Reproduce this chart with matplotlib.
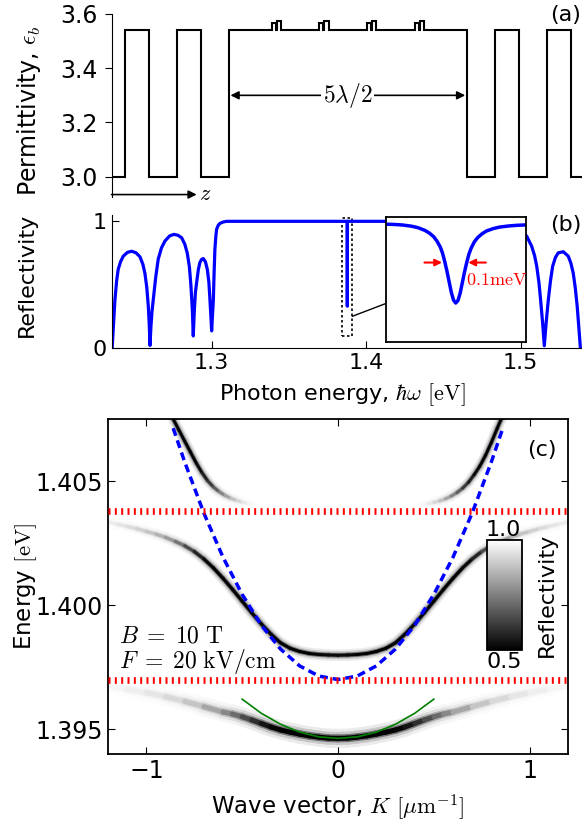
import numpy as np
import matplotlib
matplotlib.use('Agg')
import matplotlib.pyplot as plt
from matplotlib.collections import LineCollection
from matplotlib.patches import Rectangle, ConnectionPatch
from matplotlib import cm, colors

plt.rcParams['mathtext.fontset'] = 'cm'
plt.rcParams['font.family'] = 'DejaVu Sans'

# ---- (a) permittivity profile: layer edges (nm) and eps of each layer
z_edges = [0, 67, 187, 327, 447, 587,
           802, 822, 827, 848,
           1040, 1060, 1065, 1086,
           1278, 1298, 1303, 1324,
           1516, 1536, 1541, 1562,
           1777, 1917, 2037, 2177, 2297, 2400]
eps = [3.0, 3.54, 3.0, 3.54, 3.0,
       3.54, 3.565, 3.54, 3.575,
       3.54, 3.565, 3.54, 3.575,
       3.54, 3.565, 3.54, 3.575,
       3.54, 3.565, 3.54, 3.575,
       3.54, 3.0, 3.54, 3.0, 3.54, 3.0]
cav_start, cav_end = 587, 1777

# ---- (b) reflectivity spectrum
E_b = [1.2356, 1.2364, 1.2374, 1.2385, 1.2395, 1.2410, 1.2428, 1.2455, 1.2482, 1.2510,
       1.2536, 1.2555, 1.2568, 1.2580, 1.2590, 1.2596, 1.2601,
       1.2607, 1.2614, 1.2622, 1.2638, 1.2654, 1.2675, 1.2698, 1.2728, 1.2756, 1.2782,
       1.2806, 1.2826, 1.2842, 1.2856, 1.2866, 1.2875, 1.2881,
       1.2888, 1.2895, 1.2903, 1.2914, 1.2924, 1.2935, 1.2946, 1.2960, 1.2972, 1.2982,
       1.2989, 1.2995, 1.3000,
       1.3005, 1.3011, 1.3016, 1.3021, 1.3027, 1.3032, 1.3043, 1.3054, 1.3075, 1.3097,
       1.3877, 1.3878, 1.3879,
       1.4800, 1.4880, 1.4940, 1.4990, 1.5039, 1.5071, 1.5090, 1.5104, 1.5118, 1.5129,
       1.5142, 1.5153, 1.5165, 1.5179, 1.5193, 1.5207, 1.5225, 1.5243, 1.5276, 1.5308,
       1.5325, 1.5340, 1.5354, 1.5366, 1.5376, 1.5386]
R_b = [0.00, 0.17, 0.38, 0.53, 0.62, 0.68, 0.725, 0.755, 0.764, 0.752,
       0.72, 0.66, 0.59, 0.48, 0.33, 0.19, 0.02,
       0.17, 0.29, 0.38, 0.56, 0.70, 0.79, 0.845, 0.885, 0.897, 0.89,
       0.87, 0.82, 0.75, 0.64, 0.49, 0.30, 0.095,
       0.30, 0.44, 0.52, 0.62, 0.675, 0.70, 0.706, 0.68, 0.62, 0.52,
       0.38, 0.25, 0.135,
       0.25, 0.38, 0.60, 0.78, 0.88, 0.937, 0.97, 0.984, 0.995, 1.0,
       1.0, 0.33, 1.0,
       1.0, 0.995, 0.975, 0.94, 0.883, 0.804, 0.73, 0.645, 0.52, 0.381,
       0.20, 0.018, 0.20, 0.381, 0.53, 0.645, 0.715, 0.751, 0.76, 0.725,
       0.67, 0.593, 0.47, 0.328, 0.17, 0.01]

# inset: zoom on the cavity dip, detuning in meV
dE_in = [-0.32, -0.28, -0.24, -0.20, -0.17, -0.14, -0.12, -0.10, -0.085, -0.07, -0.06,
         -0.05, -0.04, -0.03, -0.02, -0.01, 0.0, 0.01, 0.02, 0.03, 0.04, 0.05, 0.06,
         0.07, 0.085, 0.10, 0.12, 0.14, 0.17, 0.20, 0.24, 0.28, 0.32]
R_in = [0.992, 0.99, 0.985, 0.975, 0.962, 0.94, 0.918, 0.887, 0.85, 0.80, 0.75,
        0.68, 0.60, 0.51, 0.42, 0.355, 0.33, 0.35, 0.41, 0.50, 0.59, 0.67, 0.74,
        0.79, 0.845, 0.88, 0.912, 0.935, 0.955, 0.968, 0.977, 0.983, 0.986]

# ---- (c) polariton branches: K (1/um), energy (eV), minimum reflectivity
K_upL = [-0.86, -0.83, -0.80, -0.77, -0.74, -0.71, -0.68, -0.65, -0.62, -0.59, -0.56,
         -0.53, -0.50, -0.47, -0.44, -0.41]
E_upL = [1.4075, 1.40705, 1.40661, 1.40617, 1.40573, 1.40534, 1.40501, 1.40476, 1.40457,
         1.40442, 1.40431, 1.40422, 1.40415, 1.40410, 1.40406, 1.40403]
R_upL = [0.5, 0.5, 0.5, 0.5, 0.5, 0.53, 0.58, 0.64, 0.72, 0.79, 0.85,
         0.9, 0.94, 0.97, 0.99, 1.0]
K_upR = [0.41, 0.44, 0.47, 0.50, 0.53, 0.56, 0.59, 0.62, 0.65, 0.68, 0.71, 0.74, 0.77,
         0.80, 0.83, 0.86]
E_upR = [1.40403, 1.40406, 1.40409, 1.40414, 1.40420, 1.40428, 1.40439, 1.40453, 1.40471,
         1.40494, 1.40525, 1.40560, 1.40604, 1.40655, 1.40711, 1.40765]
R_upR = [1.0, 0.99, 0.97, 0.94, 0.9, 0.85, 0.79, 0.72, 0.64, 0.58, 0.53, 0.5, 0.5,
         0.5, 0.5, 0.5]

K_mid = [-1.20, -1.15, -1.10, -1.05, -1.00, -0.95, -0.90, -0.85, -0.80, -0.75, -0.70,
         -0.65, -0.60, -0.55, -0.50, -0.45, -0.40, -0.35, -0.30, -0.25, -0.20, -0.15,
         -0.10, -0.05, 0.00, 0.05, 0.10, 0.15, 0.20, 0.25, 0.30, 0.35, 0.40, 0.45, 0.50,
         0.55, 0.60, 0.65, 0.70, 0.75, 0.80, 0.85, 0.90, 0.95, 1.00, 1.05, 1.10, 1.15,
         1.20]
E_mid = [1.40335, 1.40326, 1.40317, 1.40308, 1.40297, 1.40286, 1.40273, 1.40257, 1.40239,
         1.40216, 1.40186, 1.40150, 1.40108, 1.40063, 1.40016, 1.39969, 1.39924, 1.39883,
         1.39848, 1.39826, 1.39813, 1.39805, 1.39801, 1.39799, 1.39798, 1.39799, 1.39801,
         1.39805, 1.39813, 1.39826, 1.39848, 1.39883, 1.39924, 1.39969, 1.40016, 1.40063,
         1.40108, 1.40150, 1.40186, 1.40216, 1.40239, 1.40257, 1.40273, 1.40286, 1.40297,
         1.40308, 1.40317, 1.40326, 1.40335]
R_mid = [0.97, 0.955, 0.94, 0.92, 0.9, 0.87, 0.83, 0.77, 0.69, 0.6, 0.53,
         0.5, 0.5, 0.5, 0.5, 0.5, 0.5, 0.5, 0.5, 0.5, 0.5, 0.5,
         0.51, 0.52, 0.52, 0.52, 0.51, 0.5, 0.5, 0.5, 0.5, 0.5, 0.5, 0.5, 0.5,
         0.5, 0.5, 0.5, 0.53, 0.6, 0.69, 0.77, 0.83, 0.87, 0.9, 0.92, 0.94, 0.955,
         0.97]

K_low = [-1.20, -1.10, -1.00, -0.90, -0.80, -0.70, -0.60, -0.55, -0.50, -0.45, -0.40,
         -0.35, -0.30, -0.25, -0.20, -0.15, -0.10, -0.05, 0.00, 0.05, 0.10, 0.15, 0.20,
         0.25, 0.30, 0.35, 0.40, 0.45, 0.50, 0.55, 0.60, 0.70, 0.80, 0.90, 1.00, 1.10,
         1.20]
E_low = [1.39676, 1.39661, 1.39647, 1.39631, 1.39612, 1.39591, 1.39569, 1.39561, 1.39550,
         1.39537, 1.39523, 1.39509, 1.39497, 1.39488, 1.39480, 1.39473, 1.39468, 1.39464,
         1.39463, 1.39464, 1.39468, 1.39473, 1.39480, 1.39488, 1.39497, 1.39509, 1.39523,
         1.39537, 1.39550, 1.39561, 1.39569, 1.39591, 1.39612, 1.39631, 1.39647, 1.39661,
         1.39676]
R_low = [0.985, 0.975, 0.96, 0.94, 0.91, 0.86, 0.79, 0.74, 0.68, 0.62, 0.56,
         0.52, 0.5, 0.5, 0.5, 0.5, 0.5, 0.5, 0.5, 0.5, 0.5, 0.5, 0.5,
         0.5, 0.5, 0.52, 0.56, 0.62, 0.68, 0.74, 0.79, 0.86, 0.91, 0.94, 0.96, 0.975,
         0.985]

# bare cavity photon (blue dashed), exciton lines (red), lower fit (green)
K_ph = [-0.86, -0.8, -0.7, -0.6, -0.5, -0.4, -0.3, -0.2, -0.1, 0.0,
        0.1, 0.2, 0.3, 0.4, 0.5, 0.6, 0.7, 0.8, 0.86]
E_ph = [1.40713, 1.40577, 1.40371, 1.40193, 1.40043, 1.39919, 1.39823, 1.39755, 1.39714,
        1.39700, 1.39714, 1.39755, 1.39823, 1.39919, 1.40043, 1.40193, 1.40371, 1.40577,
        1.40713]
E_exc = [1.4038, 1.3970]
K_fit = [-0.5, -0.4, -0.3, -0.2, -0.1, 0.0, 0.1, 0.2, 0.3, 0.4, 0.5]
E_fit = [1.39621, 1.39564, 1.39520, 1.39488, 1.39469, 1.39463, 1.39469, 1.39488,
         1.39520, 1.39564, 1.39621]

W, H = 582, 823
fig = plt.figure(figsize=(W / 100, H / 100), dpi=100)

def px_axes(l, t, r, b):
    return fig.add_axes([l / W, 1 - b / H, (r - l) / W, (b - t) / H])

# ================= (a)
ax_a = px_axes(111.5, 14, 582, 197)
ax_a.stairs(eps, z_edges, baseline=None, color='k', lw=1.5)
ax_a.set_xlim(0, 2353)
ax_a.set_ylim(2.925, 3.6)
for s in ['top', 'right', 'bottom']:
    ax_a.spines[s].set_visible(False)
ax_a.set_xticks([])
ax_a.set_yticks([3.0, 3.2, 3.4, 3.6])
ax_a.set_yticklabels(['3.0', '3.2', '3.4', '3.6'])
ax_a.tick_params(axis='y', direction='out', labelsize=17, length=5, pad=5)
ax_a.set_ylabel('Permittivity, $\\epsilon_b$', fontsize=17)
ax_a.yaxis.set_label_coords(-0.145, 0.47)
ax_a.annotate('', xy=(cav_start + 8, 3.3), xytext=(cav_end - 8, 3.3),
              arrowprops=dict(arrowstyle='<|-|>', color='k', lw=1.2,
                              mutation_scale=12, shrinkA=0, shrinkB=0))
ax_a.text((cav_start + cav_end) / 2, 3.3, '$5\\lambda/2$', ha='center', va='center',
          fontsize=17, bbox=dict(fc='white', ec='none', pad=1))
ax_a.annotate('', xy=(426, 2.934), xytext=(0, 2.934), annotation_clip=False,
              arrowprops=dict(arrowstyle='-|>', color='k', lw=1.2,
                              mutation_scale=12, shrinkA=0, shrinkB=0))
ax_a.text(440, 2.936, '$z$', fontsize=16, ha='left', va='center')
fig.text(0.999, 1 - 5 / H, '(a)', ha='right', va='top', fontsize=16)

# ================= (b)
ax_b = px_axes(112, 215, 582, 348)
ax_b.plot(E_b, R_b, color='blue', lw=2.3, solid_joinstyle='round')
ax_b.set_xlim(1.2355, 1.5397)
ax_b.set_ylim(0, 1.05)
for s in ['top', 'right']:
    ax_b.spines[s].set_visible(False)
ax_b.set_xticks([1.3, 1.4, 1.5])
ax_b.set_yticks([0, 1])
ax_b.tick_params(direction='in', labelsize=16, length=5, top=False, right=False)
ax_b.set_ylabel('Reflectivity', fontsize=16)
ax_b.yaxis.set_label_coords(-0.16, 0.55)
ax_b.set_xlabel('Photon energy, $\\hbar\\omega$ $[\\mathrm{eV}]$', fontsize=16)
ax_b.xaxis.set_label_coords(0.49, -0.25)
ax_b.add_patch(Rectangle((1.3846, 0.098), 0.0064, 0.926, fill=False, ec='k',
                         ls=(0, (1.5, 1.5)), lw=1.2))
fig.text(0.999, 1 - 215 / H, '(b)', ha='right', va='top', fontsize=16)

ax_in = px_axes(385.7, 217.3, 525.7, 342.3)
ax_in.plot(dE_in, R_in, color='blue', lw=2.5)
ax_in.set_xlim(-0.318, 0.318)
ax_in.set_ylim(0, 1.05)
ax_in.set_xticks([])
ax_in.set_yticks([])
for s in ax_in.spines.values():
    s.set_linewidth(1.3)
ax_in.annotate('', xy=(-0.062, 0.67), xytext=(-0.142, 0.67),
               arrowprops=dict(arrowstyle='-|>', color='red', lw=1.5, mutation_scale=10,
                               shrinkA=0, shrinkB=0))
ax_in.annotate('', xy=(0.057, 0.67), xytext=(0.137, 0.67),
               arrowprops=dict(arrowstyle='-|>', color='red', lw=1.5, mutation_scale=10,
                               shrinkA=0, shrinkB=0))
ax_in.text(0.045, 0.525, '$0.1\\mathrm{meV}$', color='red', fontsize=13,
           ha='left', va='center')
con = ConnectionPatch(xyA=(1.3910, 0.25), coordsA=ax_b.transData,
                      xyB=(0.0, 0.31), coordsB=ax_in.transAxes, color='k', lw=1.0)
fig.add_artist(con)

# ================= (c)
ax_c = px_axes(108, 419, 568, 754)
norm = colors.Normalize(0.5, 1.0)
cmap = plt.get_cmap('gray')


def draw_band(K, E, R, core):
    pts = np.column_stack([K, E]).reshape(-1, 1, 2)
    segs = np.concatenate([pts[:-1], pts[1:]], axis=1)
    Rm = (np.asarray(R[:-1]) + np.asarray(R[1:])) / 2
    for lw, f in [(core * 3.8, 0.08), (core * 2.6, 0.22), (core * 1.6, 0.55), (core, 1.0)]:
        c = cmap(norm(1 - (1 - Rm) * f))
        lc = LineCollection(segs, colors=c, linewidths=lw, capstyle='round',
                            joinstyle='round', zorder=1)
        ax_c.add_collection(lc)


draw_band(K_low, E_low, R_low, 3.6)
draw_band(K_mid, E_mid, R_mid, 2.2)
draw_band(K_upL, E_upL, R_upL, 2.0)
draw_band(K_upR, E_upR, R_upR, 2.0)

for e in E_exc:
    ax_c.axhline(e, color='red', lw=4.8, ls=(0, (0.3, 0.65)), zorder=4)
ax_c.plot(K_ph, E_ph, color='blue', lw=2.5, ls=(0, (2.3, 1.4)), zorder=3)
ax_c.plot(K_fit, E_fit, color='green', lw=1.2, zorder=3)

ax_c.set_xlim(-1.2, 1.2)
ax_c.set_ylim(1.394, 1.4075)
ax_c.set_xticks([-1, 0, 1])
ax_c.set_yticks([1.395, 1.400, 1.405])
ax_c.set_yticklabels(['1.395', '1.400', '1.405'])
ax_c.tick_params(direction='in', labelsize=17, length=5, top=True, right=True)
for s in ax_c.spines.values():
    s.set_linewidth(1.3)
ax_c.set_ylabel('Energy $[\\mathrm{eV}]$', fontsize=16.5)
ax_c.yaxis.set_label_coords(-0.15, 0.5)
ax_c.set_xlabel('Wave vector, $K$ $[\\mu\\mathrm{m}^{-1}]$', fontsize=16.5)
ax_c.xaxis.set_label_coords(0.5, -0.115)
ax_c.text(0.943, 0.907, '(c)', transform=ax_c.transAxes, ha='center', va='center',
          fontsize=16)
ax_c.text(0.023, 0.355, '$B\\;=\\;10\\ \\mathrm{T}$', transform=ax_c.transAxes,
          ha='left', va='center', fontsize=17)
ax_c.text(0.023, 0.276, '$F\\;=\\;20\\ \\mathrm{kV/cm}$', transform=ax_c.transAxes,
          ha='left', va='center', fontsize=17)

cax = px_axes(487, 540, 522.4, 650)
sm = cm.ScalarMappable(norm=norm, cmap=cmap)
cb = fig.colorbar(sm, cax=cax, ticks=[])
cb.outline.set_linewidth(1.3)
cax.text(0.45, 1.0, '1.0', transform=cax.transAxes, ha='center', va='bottom', fontsize=16)
cax.text(0.5, -0.02, '0.5', transform=cax.transAxes, ha='center', va='top', fontsize=16)
cax.text(1.68, 0.5, 'Reflectivity', transform=cax.transAxes, rotation=90,
         ha='center', va='center', fontsize=16)

fig.savefig('out.png', dpi=100)
